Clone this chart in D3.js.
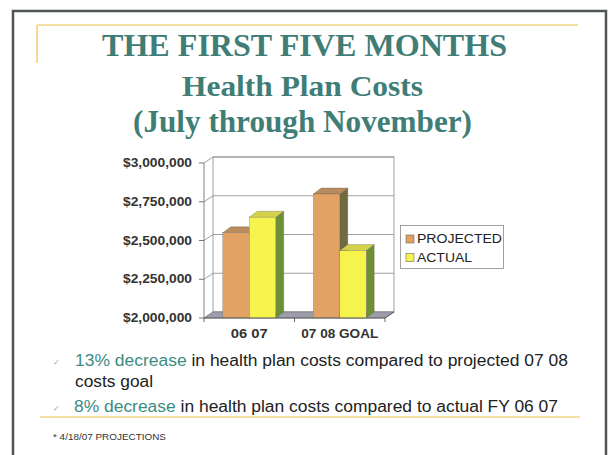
<!DOCTYPE html>
<html><head><meta charset="utf-8">
<script src="https://cdn.jsdelivr.net/npm/d3@7"></script>
<style>html,body{margin:0;padding:0;background:#fff;}svg{display:block;}</style>
</head><body>
<script>
const categories = ["06 07", "07 08 GOAL"];
const seriesNames = ["PROJECTED", "ACTUAL"];
const projected = [2550000, 2800000];
const actual = [2650000, 2435000];
const yTicks = [2000000, 2250000, 2500000, 2750000, 3000000];
const titleLines = ["THE FIRST FIVE MONTHS", "Health Plan Costs", "(July through November)"];
const bullet1 = ["13% decrease", " in health plan costs compared to projected 07 08"];
const bullet1b = "costs goal";
const bullet2 = ["8% decrease", " in health plan costs compared to actual FY 06 07"];
const footnote = "* 4/18/07 PROJECTIONS";

const W = 610, H = 455;
const svg = d3.select("body").append("svg").attr("width", W).attr("height", H);

// frame
svg.append("rect").attr("x", 13).attr("y", 11).attr("width", 593).attr("height", 470)
  .attr("fill", "none").attr("stroke", "#4f5555").attr("stroke-width", 2.5);
const gold = "#f0c24a";
svg.append("line").attr("x1", 37).attr("x2", 578).attr("y1", 25).attr("y2", 25).attr("stroke", gold).attr("stroke-width", 1.2);
svg.append("line").attr("x1", 37).attr("x2", 37).attr("y1", 25).attr("y2", 63).attr("stroke", gold).attr("stroke-width", 1.2);
svg.append("line").attr("x1", 40).attr("x2", 580).attr("y1", 417).attr("y2", 417).attr("stroke", gold).attr("stroke-width", 1.2);

// titles
const teal = "#3f7d76";
const titleSpecs = [
  {x: 102, y: 56, size: 32, len: 405},
  {x: 182, y: 96, size: 29, len: 241},
  {x: 133, y: 132, size: 32, len: 339}
];
titleLines.forEach((t, i) => {
  const s = titleSpecs[i];
  svg.append("text").attr("x", s.x).attr("y", s.y).text(t)
    .attr("font-family", "'Liberation Serif', 'DejaVu Serif', serif").attr("font-weight", "bold")
    .attr("font-size", s.size).attr("fill", teal)
    .attr("textLength", s.len).attr("lengthAdjust", "spacingAndGlyphs");
});

// chart geometry
const y = d3.scaleLinear().domain([2000000, 3000000]).range([318, 163]);
const x = d3.scaleBand().domain(categories).range([204, 385]).paddingInner(0).paddingOuter(0);
const xs = d3.scaleBand().domain(seriesNames).range([0, x.bandwidth()]).paddingInner(0).paddingOuter(0.71);
const wdx = 9, wdy = -6;   // wall depth
const bdx = 8, bdy = -6;   // bar depth
const g = svg.append("g");
const [x0, x1] = x.range();
const yb = y(2000000);

// back wall
g.append("rect").attr("x", x0 + wdx).attr("y", y(3000000) + wdy).attr("width", x1 - x0)
  .attr("height", yb - y(3000000)).attr("fill", "#fff").attr("stroke", "#8a8a8a").attr("stroke-width", 0.8);
yTicks.forEach(v => {
  g.append("line").attr("x1", x0 + wdx).attr("x2", x1 + wdx).attr("y1", y(v) + wdy).attr("y2", y(v) + wdy)
    .attr("stroke", "#8a8a8a").attr("stroke-width", 0.8);
  g.append("line").attr("x1", x0).attr("x2", x0 + wdx).attr("y1", y(v)).attr("y2", y(v) + wdy)
    .attr("stroke", "#8a8a8a").attr("stroke-width", 0.8);
  g.append("line").attr("x1", x0 - 5).attr("x2", x0).attr("y1", y(v)).attr("y2", y(v))
    .attr("stroke", "#666").attr("stroke-width", 0.9);
});
// floor
g.append("polygon").attr("points", [[x0, yb], [x1, yb], [x1 + wdx, yb + wdy], [x0 + wdx, yb + wdy]].map(p => p.join(",")).join(" "))
  .attr("fill", "#9d9dab").attr("stroke", "#777").attr("stroke-width", 0.6);
// left axis
g.append("line").attr("x1", x0).attr("x2", x0).attr("y1", y(3000000)).attr("y2", yb).attr("stroke", "#777").attr("stroke-width", 0.9);
// y labels
yTicks.forEach(v => {
  g.append("text").attr("x", 192).attr("y", y(v)).attr("dy", "0.35em").attr("text-anchor", "end")
    .text(d3.format("$,")(v)).attr("font-family", "Arial, 'Liberation Sans', sans-serif").attr("font-weight", "bold")
    .attr("font-size", 12).attr("fill", "#333").attr("textLength", 69).attr("lengthAdjust", "spacingAndGlyphs");
});

// bars
const colors = {
  PROJECTED: {front: "#e1a263", top: "#b88a5c", side: "#6f6a40"},
  ACTUAL: {front: "#f6f44c", top: "#d4d24a", side: "#6d8f38"}
};
const poly = pts => pts.map(p => p.join(",")).join(" ");
categories.forEach((c, i) => {
  const vals = {PROJECTED: projected[i], ACTUAL: actual[i]};
  seriesNames.forEach(s => {
    const bx0 = x(c) + xs(s), bx1 = bx0 + xs.bandwidth(), ty = y(vals[s]);
    const col = colors[s];
    g.append("polygon").attr("points", poly([[bx1, ty], [bx1 + bdx, ty + bdy], [bx1 + bdx, yb + bdy], [bx1, yb]]))
      .attr("fill", col.side).attr("stroke", "#555").attr("stroke-width", 0.3);
    g.append("polygon").attr("points", poly([[bx0, ty], [bx0 + bdx, ty + bdy], [bx1 + bdx, ty + bdy], [bx1, ty]]))
      .attr("fill", col.top).attr("stroke", "#555").attr("stroke-width", 0.3);
    g.append("rect").attr("x", bx0).attr("y", ty).attr("width", bx1 - bx0).attr("height", yb - ty)
      .attr("fill", col.front).attr("stroke", "#666").attr("stroke-width", 0.3);
  });
});
// bottom axis
g.append("line").attr("x1", x0).attr("x2", x1).attr("y1", yb).attr("y2", yb).attr("stroke", "#555").attr("stroke-width", 0.9);
g.append("line").attr("x1", x1).attr("x2", x1 + wdx).attr("y1", yb).attr("y2", yb + wdy).attr("stroke", "#555").attr("stroke-width", 0.9);
[x0, x0 + x.bandwidth(), x1].forEach(t => {
  g.append("line").attr("x1", t).attr("x2", t).attr("y1", yb).attr("y2", yb + 4).attr("stroke", "#555").attr("stroke-width", 0.9);
});
const catLen = {"06 07": 37, "07 08 GOAL": 77};
categories.forEach(c => {
  g.append("text").attr("x", x(c) + x.bandwidth() / 2).attr("y", 338).attr("text-anchor", "middle").text(c)
    .attr("font-family", "Arial, 'Liberation Sans', sans-serif").attr("font-weight", "bold").attr("font-size", 12)
    .attr("fill", "#333").attr("textLength", catLen[c]).attr("lengthAdjust", "spacingAndGlyphs");
});

// legend
const lg = svg.append("g");
lg.append("rect").attr("x", 400.5).attr("y", 225.5).attr("width", 103).attr("height", 43)
  .attr("fill", "#fff").attr("stroke", "#888").attr("stroke-width", 0.8);
seriesNames.forEach((s, i) => {
  const yy = 235 + i * 18.5;
  lg.append("rect").attr("x", 406).attr("y", yy).attr("width", 8).attr("height", 8)
    .attr("fill", colors[s].front).attr("stroke", "#666").attr("stroke-width", 0.6);
  lg.append("text").attr("x", 417).attr("y", yy + 8).text(s)
    .attr("font-family", "Arial, 'Liberation Sans', sans-serif").attr("font-size", 12).attr("fill", "#222")
    .attr("textLength", s === "PROJECTED" ? 85 : 55).attr("lengthAdjust", "spacingAndGlyphs");
});

// bullets
const bteal = "#3b8c82";
function bullet(parts, firstColor, xx, yy, len) {
  const t = svg.append("text").attr("x", xx).attr("y", yy)
    .attr("font-family", "Arial, 'Liberation Sans', sans-serif").attr("font-size", 16)
    .attr("textLength", len).attr("lengthAdjust", "spacingAndGlyphs");
  t.append("tspan").text(parts[0]).attr("fill", firstColor);
  if (parts[1]) t.append("tspan").text(parts[1]).attr("fill", "#222");
}
bullet(bullet1, bteal, 75, 366, 493);
bullet([bullet1b], "#222", 75, 387, 78);
bullet(bullet2, bteal, 74, 412, 484);
[366, 412].forEach(yy => {
  svg.append("text").attr("x", 53).attr("y", yy - 1).text("✓")
    .attr("font-family", "'DejaVu Sans', sans-serif").attr("font-size", 8).attr("fill", "#86b886");
});
svg.append("text").attr("x", 53).attr("y", 440).text(footnote)
  .attr("font-family", "Arial, 'Liberation Sans', sans-serif").attr("font-size", 9).attr("fill", "#333")
  .attr("textLength", 113).attr("lengthAdjust", "spacingAndGlyphs");
</script>
</body></html>
